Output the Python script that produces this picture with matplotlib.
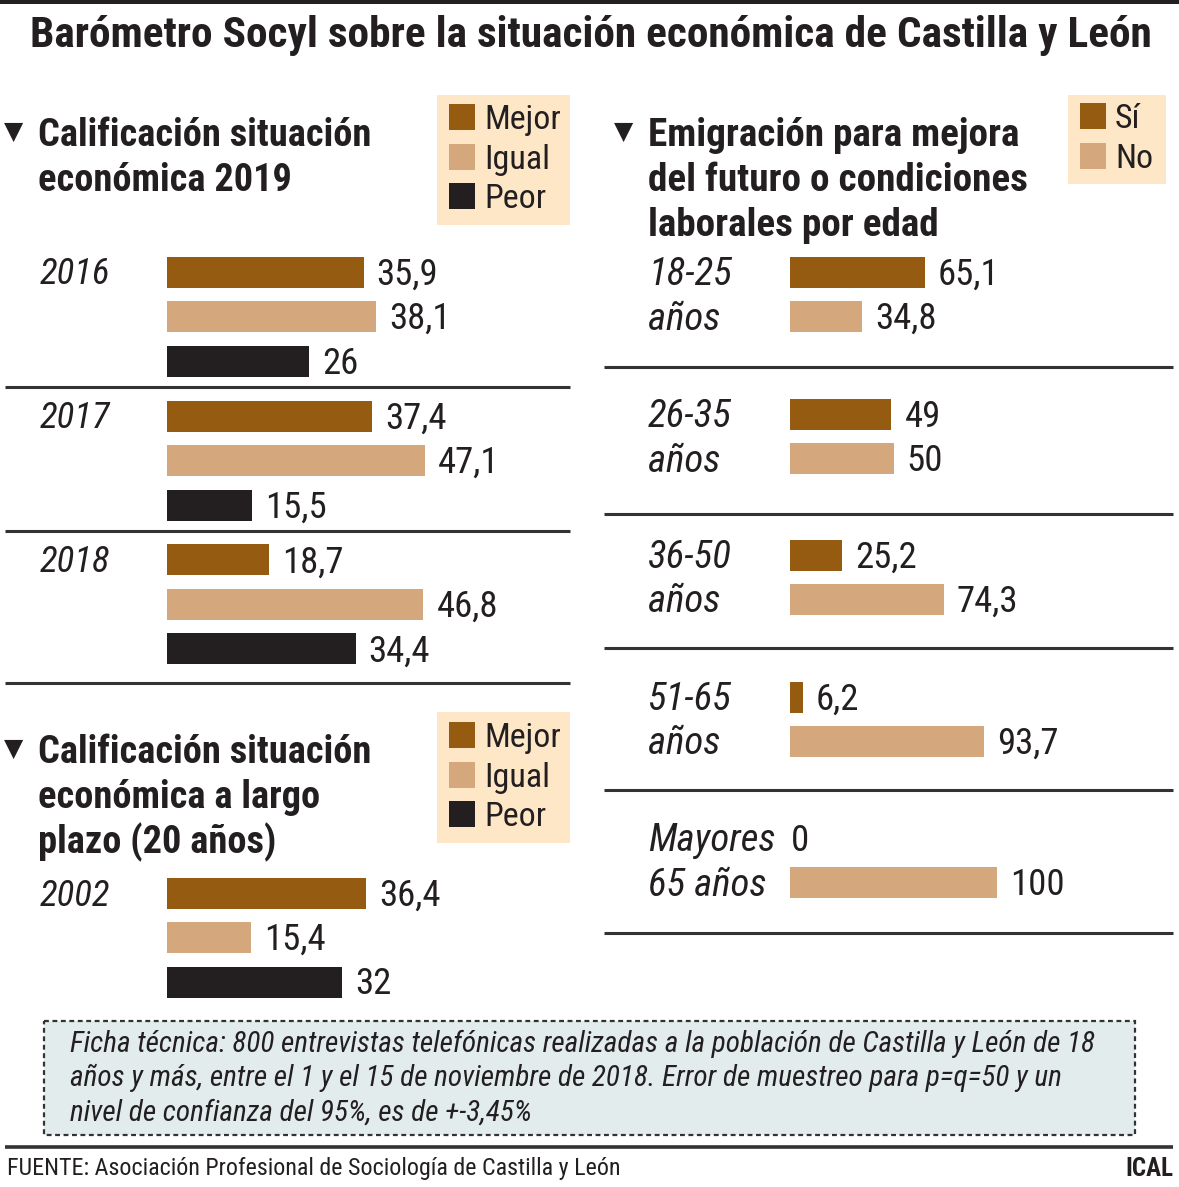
"""Barómetro Socyl: situación económica de Castilla y León (infografía)."""

import matplotlib
matplotlib.use("Agg")
import matplotlib.pyplot as plt
from matplotlib import font_manager
from matplotlib.patches import Rectangle

# ---- data -------------------------------------------------------------
years = ["2016", "2017", "2018"]
mejor = [35.9, 37.4, 18.7]
igual = [38.1, 47.1, 46.8]
peor = [26, 15.5, 34.4]

lp_years = ["2002"]
lp_mejor = [36.4]
lp_igual = [15.4]
lp_peor = [32]

age_top = ["18-25", "26-35", "36-50", "51-65", "Mayores"]
age_bottom = ["años", "años", "años", "años", "65 años"]
si = [65.1, 49, 25.2, 6.2, 0]
no = [34.8, 50, 74.3, 93.7, 100]

legend_3 = ["Mejor", "Igual", "Peor"]
legend_2 = ["Sí", "No"]

# ---- style ------------------------------------------------------------
C_MEJOR = "#955b10"
C_IGUAL = "#d4a77c"
C_PEOR = "#231f20"
C_TEXT = "#231f20"
C_LEG = "#fde7c7"
C_BOX = "#e2eced"
C_RULE = "#333333"

have = {f.name for f in font_manager.fontManager.ttflist}
FONT = next((f for f in ["Liberation Sans Narrow", "Roboto Condensed",
                         "Open Sans Condensed", "Liberation Sans"] if f in have),
            "DejaVu Sans")
plt.rcParams["font.family"] = [FONT, "DejaVu Sans"]

W, H = 1179, 1187
DY = 2.5  # text sits a touch lower than its centre line
VAL = 26.5  # value labels
LAB = 26.5  # italic row labels

fig = plt.figure(figsize=(W / 100, H / 100), dpi=100)
fig.patch.set_facecolor("white")
ax = fig.add_axes([0, 0, 1, 1])
ax.set_xlim(0, W)
ax.set_ylim(H, 0)
ax.axis("off")

renderer = fig.canvas.get_renderer()


def fit_text(x, y, s, width, **kw):
    """Text whose size is chosen so that it spans `width` pixels."""
    t = ax.text(x, y + DY, s, fontsize=20, color=C_TEXT, va="center", **kw)
    w = t.get_window_extent(renderer).width
    t.set_fontsize(20 * width / w)
    return t


def txt(x, y, s, size=24, **kw):
    kw.setdefault("color", C_TEXT)
    kw.setdefault("va", "center")
    return ax.text(x, y + DY, s, fontsize=size, **kw)


def hline(y, x0, x1, lw=2.2):
    ax.plot([x0, x1], [y, y], color=C_RULE, lw=lw, solid_capstyle="butt")


def fmt(v):
    return f"{v:g}".replace(".", ",")


def bar_axes(x0, x1, y0, y1, scale):
    """Axes whose x is in data units (scale px per unit) and y in pixels."""
    a = fig.add_axes([x0 / W, 1 - y1 / H, (x1 - x0) / W, (y1 - y0) / H])
    a.set_xlim(0, (x1 - x0) / scale)
    a.set_ylim(y1, y0)
    a.axis("off")
    return a


def bars(a, ys, vals, color, scale):
    a.barh(ys, vals, height=31, color=color, edgecolor="none")
    for y, v in zip(ys, vals):
        gap = 13 / scale if v > 0 else 1 / scale
        a.text(v + gap, y + DY, fmt(v), fontsize=VAL, color=C_TEXT,
               va="center", ha="left")


def legend(x0, y0, x1, y1, labels, colors, ys):
    ax.add_patch(Rectangle((x0, y0), x1 - x0, y1 - y0, color=C_LEG, lw=0))
    for lab, c, y in zip(labels, colors, ys):
        ax.add_patch(Rectangle((x0 + 12, y - 13), 26, 26, color=c, lw=0))
        txt(x0 + 47, y, lab, 24.5)


def heading(x, y, lines, width0, step=45):
    txt(x - 34, y - 4, "\u25bc", 18, family="DejaVu Sans")
    t = fit_text(x, y, lines[0], width0, fontweight="bold")
    for i, s in enumerate(lines[1:], 1):
        txt(x, y + i * step, s, t.get_fontsize(), fontweight="bold")


# ---- title ------------------------------------------------------------
ax.add_patch(Rectangle((0, 0), W, 4, color=C_PEOR, lw=0))
fit_text(30, 33, "Barómetro Socyl sobre la situación económica de Castilla y León",
         1122, fontweight="bold")

# ---- left top: calificación 2019 -------------------------------------
heading(38, 133, ["Calificación situación", "económica 2019"], 332)
legend(437, 95, 570, 225, legend_3, [C_MEJOR, C_IGUAL, C_PEOR], [117, 157, 196])

SL = 5.48
al = bar_axes(167, 570, 240, 700, SL)
g0, gstep, bstep = 272, 144, 44.5
tops = [g0 + i * gstep for i in range(len(years))]
for i, yr in enumerate(years):
    txt(40, tops[i], yr, LAB, style="italic")
bars(al, tops, mejor, C_MEJOR, SL)
bars(al, [t + bstep for t in tops], igual, C_IGUAL, SL)
bars(al, [t + 2 * bstep for t in tops], peor, C_PEOR, SL)
for y in [387, 531, 683]:
    hline(y, 5, 570)

# ---- left bottom: largo plazo -----------------------------------------
heading(38, 750, ["Calificación situación", "económica a largo",
                  "plazo (20 años)"], 332)
legend(437, 712, 570, 843, legend_3, [C_MEJOR, C_IGUAL, C_PEOR], [735, 775, 814])

ab = bar_axes(167, 570, 860, 1010, SL)
lp_tops = [893 + i * gstep for i in range(len(lp_years))]
for i, yr in enumerate(lp_years):
    txt(40, lp_tops[i], yr, LAB, style="italic")
bars(ab, lp_tops, lp_mejor, C_MEJOR, SL)
bars(ab, [t + bstep for t in lp_tops], lp_igual, C_IGUAL, SL)
bars(ab, [t + 2 * bstep for t in lp_tops], lp_peor, C_PEOR, SL)

# ---- right: emigración -------------------------------------------------
heading(648, 133, ["Emigración para mejora", "del futuro o condiciones",
                   "laborales por edad"], 370)
legend(1068, 95, 1166, 184, legend_2, [C_MEJOR, C_IGUAL], [116, 156])

SR = 2.07
ar = bar_axes(790, 1173, 240, 940, SR)
r_tops = [272, 414, 555, 697, 838]
for i in range(len(age_top)):
    txt(648, r_tops[i], age_top[i], 28, style="italic")
    txt(648, r_tops[i] + bstep, age_bottom[i], 28, style="italic")
bars(ar, r_tops, si, C_MEJOR, SR)
bars(ar, [t + bstep for t in r_tops], no, C_IGUAL, SR)
for y in [367, 514, 648, 790, 933]:
    hline(y, 604, 1173)

# ---- ficha técnica ------------------------------------------------------
ax.add_patch(Rectangle((44, 1021), 1091, 114, facecolor=C_BOX,
                       edgecolor="#333333", lw=1.6, linestyle=(0, (2.2, 1.6))))
ficha = ["Ficha técnica: 800 entrevistas telefónicas realizadas a la población de Castilla y León de 18",
         "años y más, entre el 1 y el 15 de noviembre de 2018. Error de muestreo para p=q=50 y un",
         "nivel de confianza del 95%, es de +-3,45%"]
t = fit_text(70, 1041, ficha[0], 1024, style="italic")
for i, s in enumerate(ficha[1:], 1):
    txt(70, 1041 + i * 34.5, s, t.get_fontsize(), style="italic")

# ---- footer -------------------------------------------------------------
hline(1147, 5, 1173, lw=2.6)
fit_text(7, 1166, "FUENTE: Asociación Profesional de Sociología de Castilla y León", 612)
txt(1173, 1166, "ICAL", 18, fontweight="bold", ha="right")

fig.savefig("out.png", dpi=100, facecolor="white")
